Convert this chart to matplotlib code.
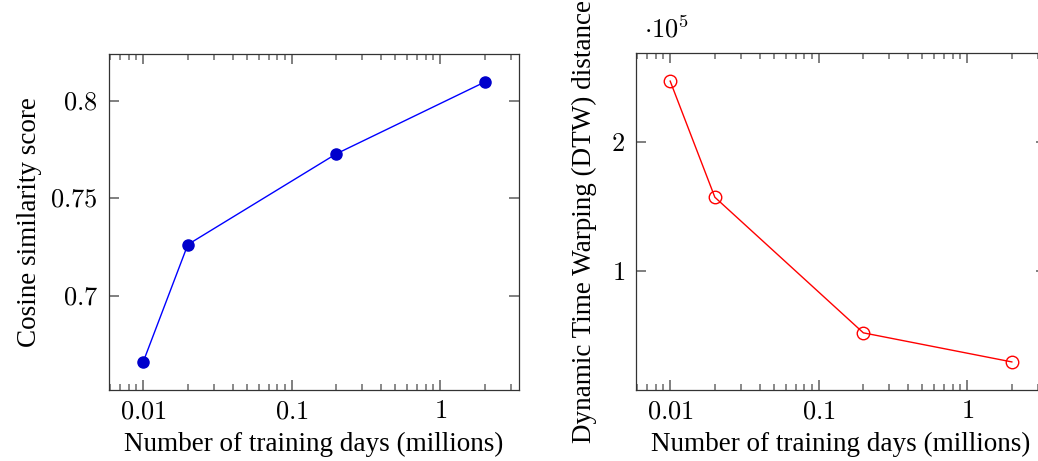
import matplotlib
matplotlib.use('Agg')
import matplotlib.pyplot as plt
from matplotlib.ticker import FixedLocator, FuncFormatter, LogLocator, MultipleLocator, NullFormatter

plt.rcParams['font.family'] = ['Liberation Serif', 'DejaVu Serif']
plt.rcParams['mathtext.fontset'] = 'cm'
plt.rcParams['font.size'] = 19.5

days = [0.01, 0.02, 0.2, 2]
cosine = [0.666, 0.7262, 0.7727, 0.8095]
dtw = [247700, 157400, 52000, 29400]

x_ticks = [0.01, 0.1, 1]
x_tick_labels = ['$0.01$', '$0.1$', '$1$']
cos_ticks = [0.7, 0.75, 0.8]
cos_tick_labels = ['$0.7$', '$0.75$', '$0.8$']


def style_axes(ax, lo, hi):
    ax.set_xscale('log')
    pad = (hi / lo) ** 0.1
    ax.set_xlim(lo / pad, hi * pad)
    ax.xaxis.set_major_locator(FixedLocator(x_ticks))
    ax.xaxis.set_major_formatter(FuncFormatter(lambda v, p: x_tick_labels[p] if p is not None and p < len(x_tick_labels) else ''))
    ax.xaxis.set_minor_locator(LogLocator(base=10, subs=[2, 3, 4, 5, 6, 7, 8, 9], numticks=20))
    ax.xaxis.set_minor_formatter(NullFormatter())
    ax.tick_params(which='both', direction='in', top=True, right=True, color='#6a6a6a', labelsize=19)
    ax.tick_params(which='major', length=7, width=1.2, pad=8)
    ax.tick_params(which='minor', length=4.5, width=1.1)
    for s in ax.spines.values():
        s.set_color('#333333')
        s.set_linewidth(0.9)
    ax.set_xlabel('Number of training days (millions)', labelpad=6)


fig = plt.figure(figsize=(10.38, 4.61), dpi=100)
ax1 = fig.add_axes([109 / 1038, 71 / 461, 410 / 1038, 336 / 461])
ax2 = fig.add_axes([636 / 1038, 71 / 461, 410 / 1038, 337 / 461])

ax1.plot(days, cosine, color='blue', lw=1, marker='o', markersize=8,
         markerfacecolor='#0000cc', markeredgecolor='#0000cc')
style_axes(ax1, days[0], days[-1])
r = max(cosine) - min(cosine)
ax1.set_ylim(min(cosine) - 0.1 * r, max(cosine) + 0.1 * r)
ax1.yaxis.set_major_locator(FixedLocator(cos_ticks))
ax1.yaxis.set_major_formatter(FuncFormatter(lambda v, p: cos_tick_labels[p] if p is not None and p < len(cos_tick_labels) else ''))
ax1.set_ylabel('Cosine similarity score', labelpad=6)

ax2.plot(days, dtw, color='red', lw=1, marker='o', markersize=9,
         markerfacecolor='none', markeredgecolor='red', markeredgewidth=1)
style_axes(ax2, days[0], days[-1])
r = max(dtw) - min(dtw)
ax2.set_ylim(min(dtw) - 0.1 * r, max(dtw) + 0.1 * r)
ax2.yaxis.set_major_locator(MultipleLocator(1e5))
ax2.yaxis.set_major_formatter(FuncFormatter(lambda v, p: '$%d$' % round(v / 1e5)))
ax2.set_ylabel('Dynamic Time Warping (DTW) distance', labelpad=10)
ax2.text(0.02, 1.03, r'$\cdot 10^5$', transform=ax2.transAxes, fontsize=19, ha='left', va='bottom')

fig.savefig('out.png', dpi=100)
